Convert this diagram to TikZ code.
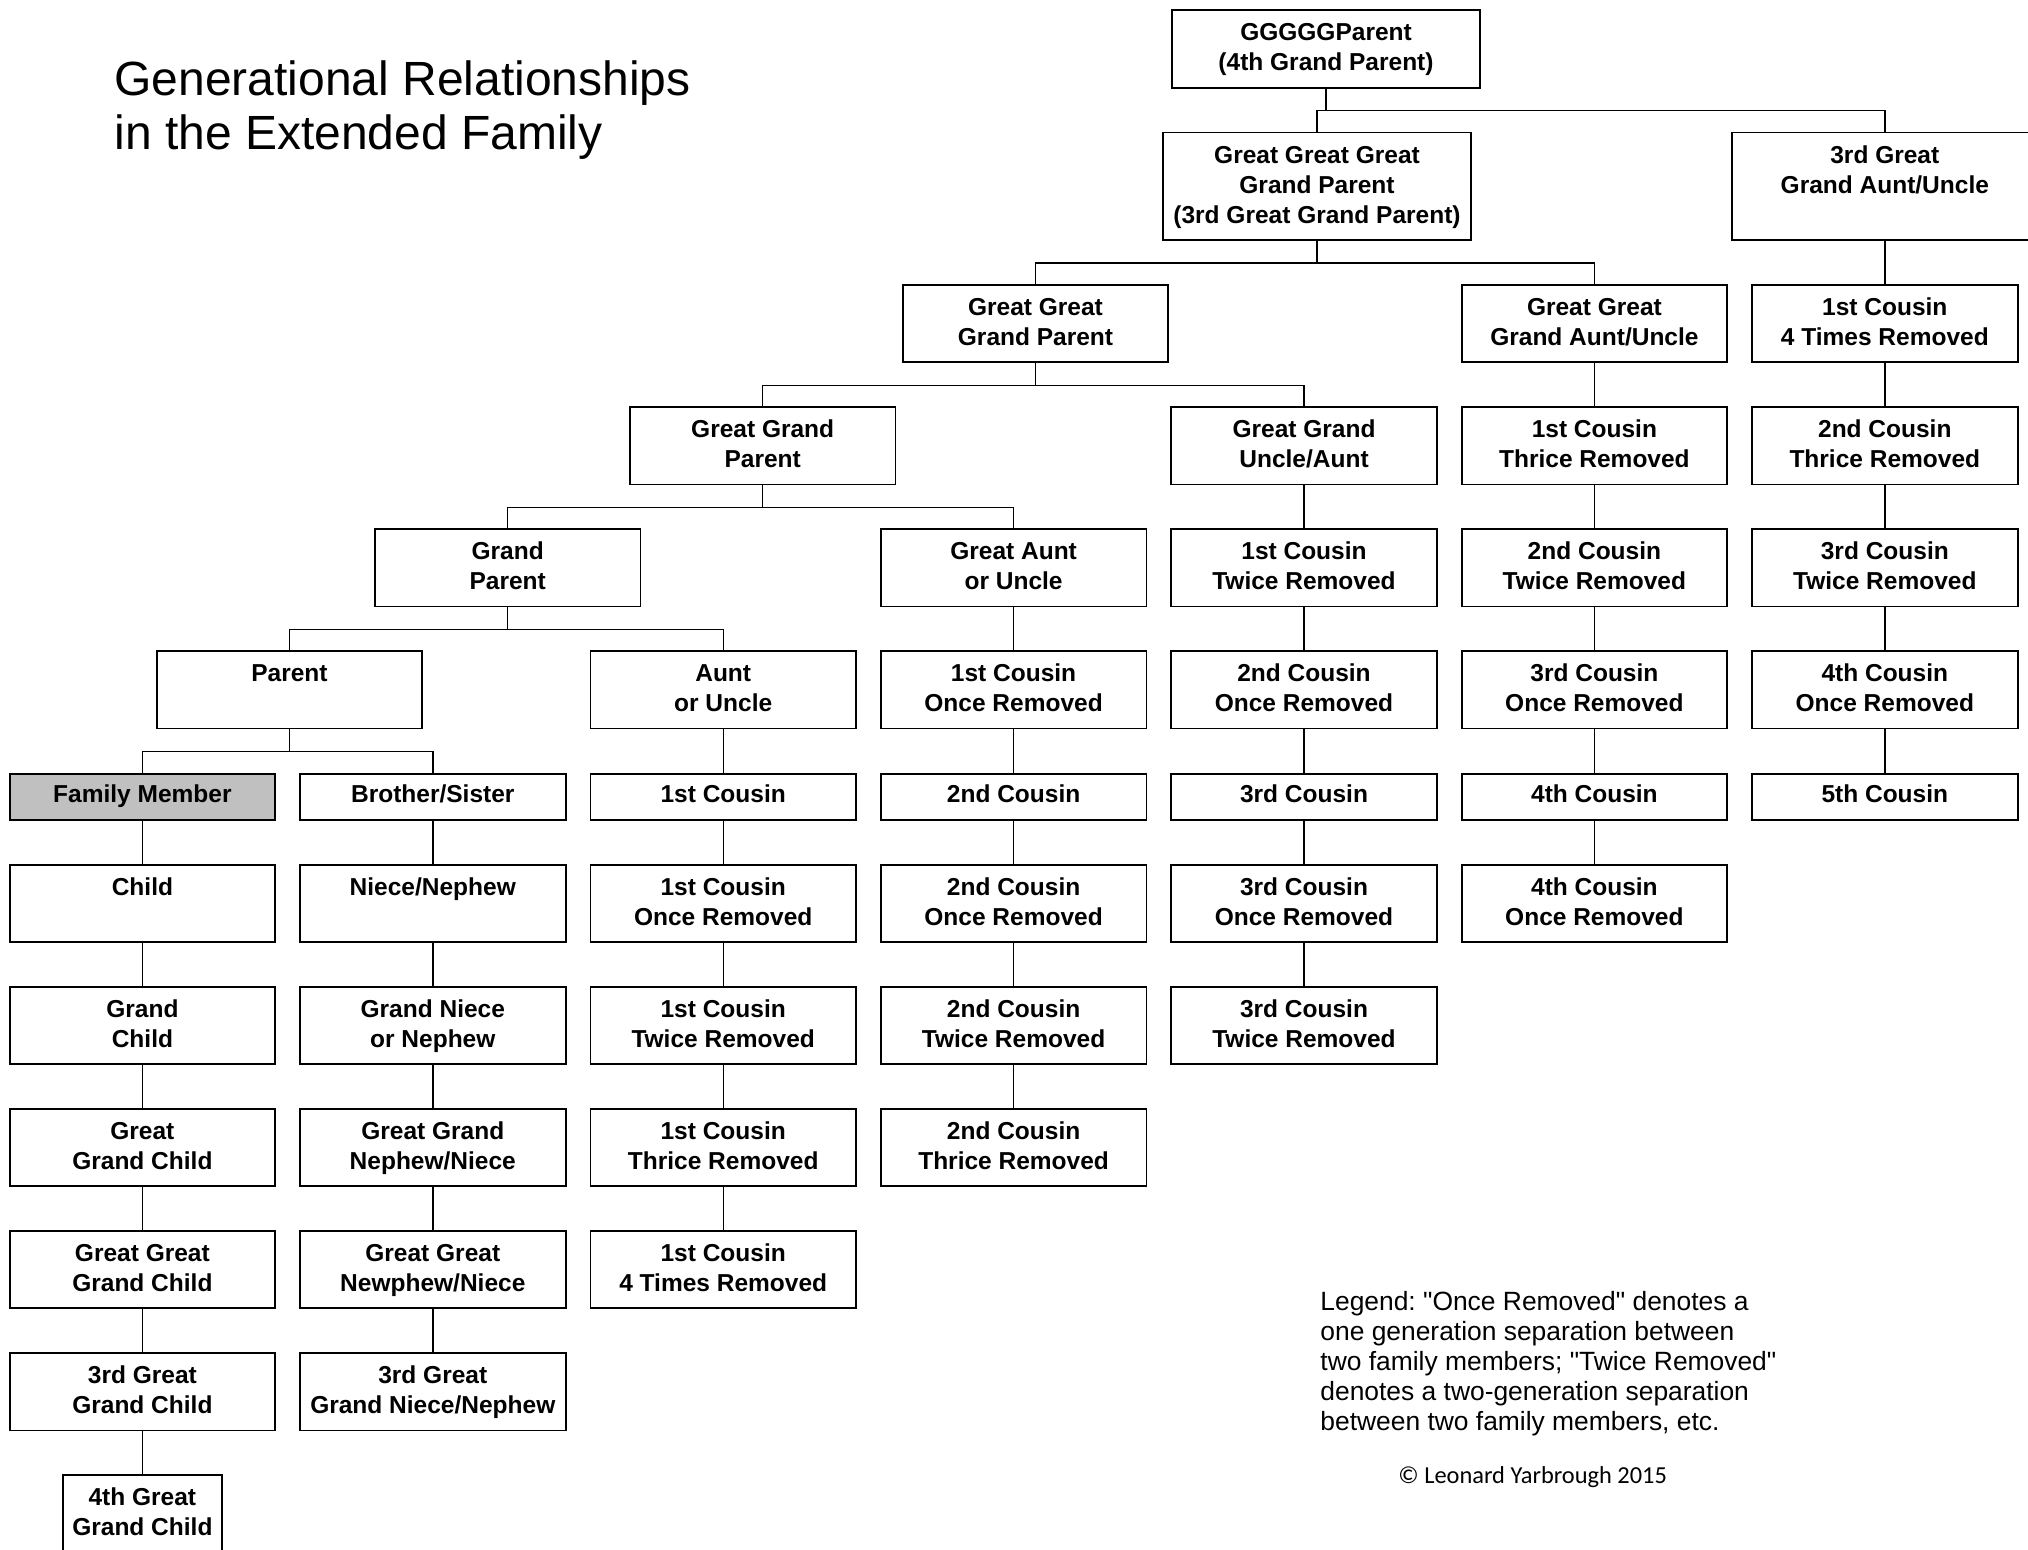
\documentclass[tikz,border=0pt]{standalone}
\usepackage{fontspec}
\setmainfont{Liberation Sans}
\newfontfamily\legfont{Liberation Sans}
\newfontfamily\calib{Carlito}
\usetikzlibrary{calc}
\frenchspacing
\definecolor{famgray}{HTML}{C0C0C0}
\tikzset{
  famrect/.style={draw=black, line width=0.9pt, fill=white, inner sep=0pt, rectangle},
  famtext/.style={font=\fontsize{12.25}{15}\selectfont\bfseries, inner sep=0pt},
  conn/.style={draw=black, line width=0.7pt},
  memberfill/.style={fill=famgray}
}
% [#1 extra style] #2 name, #3 cx, #4 top, #5 width, #6 height, #7 first-baseline offset, #8 text
\newcommand{\famnode}[8][]{%
  \node[famrect,#1,minimum width=#5*0.5pt,minimum height=#6*0.5pt,anchor=north] (#2) at (#3,#4) {};
  \node[famtext,anchor=base] (#2-t) at ($(#2.north)+(0,#7)$) {\begin{tabular}[t]{@{}c@{}}#8\end{tabular}};
}
\newcommand{\tbox}[4]{\famnode{#1}{#2}{#3}{265.6}{77.3}{31.5}{#4}}
\newcommand{\shbox}[4]{\famnode{#1}{#2}{#3}{265.6}{46.6}{30}{#4}}
\newcommand{\famlink}[3]{%
  \draw[conn] (#2.north) -- ++(0,-21) -| (#3.north);
  \draw[conn] (#1.south) -- ($(#1.south |- #2.north)+(0,-21)$);
}
\newcommand{\vlink}[2]{\draw[conn] (#1.south) -- (#2.north);}
\begin{document}
\begin{tikzpicture}[x=0.5pt,y=-0.5pt]
\useasboundingbox (0,0) rectangle (2028,1550);
\clip (0,0) rectangle (2028,1550);
\fill[white] (0,0) rectangle (2028,1550);
% column centres
\def\ca{142.4}\def\cb{432.8}\def\cc{723.2}\def\cd{1013.6}\def\ce{1304}\def\cf{1594.4}\def\cg{1884.8}
% row tops
\def\ra{284}\def\rb{406.3}\def\rc{528.3}\def\rd{650.3}\def\rs{772.7}
\def\re{864}\def\rf{986}\def\rg{1108}\def\rh{1230}\def\ri{1352.3}\def\rj{1474.3}

% title
\node[anchor=base west, font=\fontsize{24}{27}\selectfont, inner sep=0pt] (title) at (114,96)
  {\begin{tabular}[t]{@{}l@{}}Generational Relationships\\in the Extended Family\end{tabular}};

% top ancestors
\famnode{g5p}{1326}{9.3}{308}{78}{31.5}{GGGGGParent\\(4th Grand Parent)}
\famnode{g4p}{1317}{131.7}{308}{107.3}{31.5}{Great Great Great\\Grand Parent\\(3rd Great Grand Parent)}
\famnode{ga3}{\cg}{131.7}{306}{107.3}{31.5}{3rd Great\\Grand Aunt/Uncle}
\tbox{g3p}{1035.5}{\ra}{Great Great\\Grand Parent}
\tbox{g2p}{762.7}{\rb}{Great Grand\\Parent}
\tbox{gp}{507.7}{\rc}{Grand\\Parent}
\tbox{par}{289.5}{\rd}{Parent}

% column 0
\famnode[memberfill]{fm}{\ca}{\rs}{265.6}{46.6}{30}{Family Member}
\tbox{ch}{\ca}{\re}{Child}
\tbox{gc}{\ca}{\rf}{Grand\\Child}
\tbox{ggc}{\ca}{\rg}{Great\\Grand Child}
\tbox{gggc}{\ca}{\rh}{Great Great\\Grand Child}
\tbox{tgc}{\ca}{\ri}{3rd Great\\Grand Child}
\famnode{fgc}{\ca}{\rj}{158.4}{77.3}{31.5}{4th Great\\Grand Child}

% column 1
\shbox{bs}{\cb}{\rs}{Brother/Sister}
\tbox{nn}{\cb}{\re}{Niece/Nephew}
\tbox{gnn}{\cb}{\rf}{Grand Niece\\or Nephew}
\tbox{ggnn}{\cb}{\rg}{Great Grand\\Nephew/Niece}
\tbox{gggnn}{\cb}{\rh}{Great Great\\Newphew/Niece}
\tbox{tgnn}{\cb}{\ri}{3rd Great\\Grand Niece/Nephew}

% column 2
\tbox{au}{\cc}{\rd}{Aunt\\or Uncle}
\shbox{ka}{\cc}{\rs}{1st Cousin}
\tbox{kb}{\cc}{\re}{1st Cousin\\Once Removed}
\tbox{kc}{\cc}{\rf}{1st Cousin\\Twice Removed}
\tbox{kd}{\cc}{\rg}{1st Cousin\\Thrice Removed}
\tbox{ke}{\cc}{\rh}{1st Cousin\\4 Times Removed}

% column 3
\tbox{gau}{\cd}{\rc}{Great Aunt\\or Uncle}
\tbox{la}{\cd}{\rd}{1st Cousin\\Once Removed}
\shbox{lb}{\cd}{\rs}{2nd Cousin}
\tbox{lc}{\cd}{\re}{2nd Cousin\\Once Removed}
\tbox{ld}{\cd}{\rf}{2nd Cousin\\Twice Removed}
\tbox{le}{\cd}{\rg}{2nd Cousin\\Thrice Removed}

% column 4
\tbox{ggua}{\ce}{\rb}{Great Grand\\Uncle/Aunt}
\tbox{ma}{\ce}{\rc}{1st Cousin\\Twice Removed}
\tbox{mb}{\ce}{\rd}{2nd Cousin\\Once Removed}
\shbox{mc}{\ce}{\rs}{3rd Cousin}
\tbox{md}{\ce}{\re}{3rd Cousin\\Once Removed}
\tbox{me}{\ce}{\rf}{3rd Cousin\\Twice Removed}

% column 5
\tbox{gggau}{\cf}{\ra}{Great Great\\Grand Aunt/Uncle}
\tbox{na}{\cf}{\rb}{1st Cousin\\Thrice Removed}
\tbox{nb}{\cf}{\rc}{2nd Cousin\\Twice Removed}
\tbox{nc}{\cf}{\rd}{3rd Cousin\\Once Removed}
\shbox{nd}{\cf}{\rs}{4th Cousin}
\tbox{ne}{\cf}{\re}{4th Cousin\\Once Removed}

% column 6
\tbox{oa}{\cg}{\ra}{1st Cousin\\4 Times Removed}
\tbox{ob}{\cg}{\rb}{2nd Cousin\\Thrice Removed}
\tbox{oc}{\cg}{\rc}{3rd Cousin\\Twice Removed}
\tbox{od}{\cg}{\rd}{4th Cousin\\Once Removed}
\shbox{oe}{\cg}{\rs}{5th Cousin}

% family buses
\famlink{g5p}{g4p}{ga3}
\famlink{g4p}{g3p}{gggau}
\famlink{g3p}{g2p}{ggua}
\famlink{g2p}{gp}{gau}
\famlink{gp}{par}{au}
\famlink{par}{fm}{bs}

% vertical chains
\vlink{fm}{ch}\vlink{ch}{gc}\vlink{gc}{ggc}\vlink{ggc}{gggc}\vlink{gggc}{tgc}\vlink{tgc}{fgc}
\vlink{bs}{nn}\vlink{nn}{gnn}\vlink{gnn}{ggnn}\vlink{ggnn}{gggnn}\vlink{gggnn}{tgnn}
\vlink{au}{ka}\vlink{ka}{kb}\vlink{kb}{kc}\vlink{kc}{kd}\vlink{kd}{ke}
\vlink{gau}{la}\vlink{la}{lb}\vlink{lb}{lc}\vlink{lc}{ld}\vlink{ld}{le}
\vlink{ggua}{ma}\vlink{ma}{mb}\vlink{mb}{mc}\vlink{mc}{md}\vlink{md}{me}
\vlink{gggau}{na}\vlink{na}{nb}\vlink{nb}{nc}\vlink{nc}{nd}\vlink{nd}{ne}
\vlink{ga3}{oa}\vlink{oa}{ob}\vlink{ob}{oc}\vlink{oc}{od}\vlink{od}{oe}

% legend
\node[anchor=base west, font=\legfont\fontsize{13.2}{15.1}\selectfont, inner sep=0pt] (legend) at (1320,1310)
  {\begin{tabular}[t]{@{}l@{}}Legend: "Once Removed" denotes a\\one generation separation between\\two family members; "Twice Removed"\\denotes a two-generation separation\\between two family members, etc.\end{tabular}};
\node[anchor=base west, font=\calib\fontsize{12.2}{14}\selectfont, inner sep=0pt] (copy) at (1398,1483)
  {© Leonard Yarbrough 2015};
\end{tikzpicture}
\end{document}
